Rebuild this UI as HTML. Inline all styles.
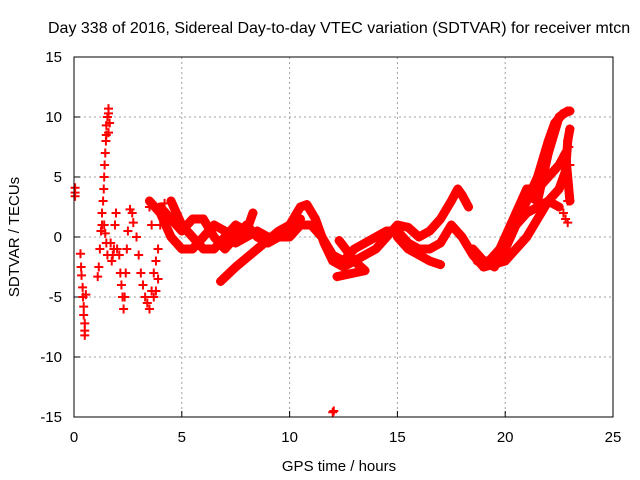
<!DOCTYPE html>
<html><head><meta charset="utf-8"><style>
body{margin:0;background:#fff}
svg{display:block;font-family:"Liberation Sans",sans-serif}
</style></head><body>
<svg id="chart" width="640" height="480">
<text x="48" y="33" font-size="16" text-anchor="start">Day 338 of 2016, Sidereal Day-to-day VTEC variation (SDTVAR) for receiver mtcn</text>
<text x="339" y="471" font-size="15" text-anchor="middle">GPS time / hours</text>
<text x="19" y="237" font-size="15" text-anchor="middle" transform="rotate(-90 19 237)">SDTVAR / TECUs</text>
<g id="grid"></g><g id="ticks"></g><g id="marks"></g>
<rect x="74" y="57" width="539" height="360" fill="none" stroke="#000"/>
</svg>
<script>
const xTicks=[0,5,10,15,20,25];
const yTicks=[-15,-10,-5,0,5,10,15];
const t1=[[0.05,3.4],[0.05,3.7],[0.05,4.1]];
const t2=[[0.3,-1.4],[0.33,-2.5],[0.35,-3.2],[0.4,-4.2],[0.42,-5],[0.45,-5.8],[0.45,-6.5],[0.5,-7.2],[0.5,-7.8],[0.5,-8.2],[0.55,-4.8]];
const t3=[[1.1,-3.3],[1.15,-2.5],[1.2,-1],[1.25,0.5],[1.3,1],[1.3,2],[1.35,3],[1.38,4],[1.4,5],[1.42,6],[1.45,7],[1.48,8],[1.5,8.5],[1.5,9.3],[1.55,10],[1.6,10.7],[1.6,10.3],[1.65,9.5],[1.6,8.7]];
const t4=[[1.4,1],[1.45,0.3],[1.5,-0.5],[1.55,-1.5],[1.7,-0.5],[1.75,-2],[1.8,-1.5],[1.85,-1],[1.9,1],[1.95,2],[2.0,-1],[2.1,-1.5],[2.15,-3],[2.2,-4],[2.25,-5],[2.3,-6],[2.35,-5],[2.4,-3],[2.45,-1],[2.5,0.5],[2.6,2.3],[2.7,2],[2.75,1.2]];
const t5=[[2.9,0],[3.0,-1.5],[3.1,-3],[3.2,-4],[3.3,-5],[3.4,-5.5],[3.5,-6],[3.6,-4.5],[3.7,-3],[3.8,-4.5],[3.9,-1],[3.5,2.5],[3.6,1],[4,1],[4.1,2],[4.2,2.8],[3.8,-2],[3.9,-3.5],[3.7,-5]];
const b1=[[3.5,3],[4,2],[4.5,0],[5,-1],[5.5,-1],[6,0],[6.5,1],[7,0.5],[7.5,-0.5],[8,0],[8.5,0.5],[9,0],[9.5,0],[10,1],[10.5,2.5],[10.8,2.7],[11.2,1.5],[11.6,-0.5],[12,-2],[12.5,-2.5],[13,-2],[13.5,-1.5],[14,-1],[14.5,0],[15,1],[15.5,0.8],[16,0],[16.5,0.5],[17,1.5],[17.5,3],[17.8,4],[18,3.5],[18.3,2.5]];
const b2=[[4,2.5],[4.5,1.5],[5,0.5],[5.5,1.5],[6,1.5],[6.5,0],[7,-1],[7.5,0],[8,1],[8.5,0],[9,-0.5],[9.5,0],[10,0],[10.5,1],[11,1],[11.5,0],[12,-1.5],[12.5,-2],[13,-1],[13.5,-0.5],[14,0],[14.5,0.5],[15,0.5],[15.5,-0.5],[16,-1],[16.5,-1],[17,-0.5],[17.5,1],[18,0],[18.5,-1.5],[19,-2.5],[19.5,-1.5],[20,-0.5],[20.5,1],[21,2],[21.5,2.5],[22,3],[22.5,2.5]];
const b3=[[4.5,3],[5,1],[5.5,0],[6,-1],[6.5,-1],[7,0],[7.5,1],[8,0.5],[8.3,2]];
const b4=[[6.8,-3.7],[7.5,-2.5],[8.5,-1],[9.5,0.5],[10.5,1.5]];
const b5=[[15,0],[15.5,-1],[16,-1.5],[16.5,-2],[17,-2.3]];
const b6=[[12.3,-0.3],[12.6,-1],[13,-2],[13.5,-2.8],[12.2,-3.3]];
const r1=[[18.5,-1],[19,-2],[19.5,-2.5],[20,-1],[20.5,1],[21,3],[21.5,5],[22,8],[22.3,9.5],[22.7,10.3],[23,10.5]];
const r2=[[18.7,-2],[19.5,-2],[20,0],[20.5,2],[21,4],[21.5,4],[22,5],[22.5,6],[22.8,7],[23,3]];
const r3=[[19,-2.5],[20,-2],[20.5,-1],[21,0],[21.5,1.5],[22,3],[22.5,4],[22.8,5.5],[22.9,8],[23,9]];
const r4=[[20.5,1],[21,3.5],[21.5,3],[22,7],[22.5,10],[22.9,10.5]];
const r5=[[22.7,2],[22.8,1.5],[22.9,1.2],[22.9,3],[22.9,4.5],[23,6],[22.95,7.5]];
const outlier=[[12,-14.6],[12.05,-14.5]];
const dense=[b1,b2,b3,b4,b5,b6,r1,r2,r3,r4];
const sparse=[t1,t2,t3,t4,t5,r5,outlier];
const X=h=>74+h*21.56, Y=v=>237-v*12;
const NS="http://www.w3.org/2000/svg";
const grid=document.getElementById('grid'),ticks=document.getElementById('ticks'),marks=document.getElementById('marks');
function mk(tag,attrs,parent){const e=document.createElementNS(NS,tag);for(const k in attrs)e.setAttribute(k,attrs[k]);parent.appendChild(e);return e;}
xTicks.forEach(t=>{
  if(t>0&&t<25){const l=mk('line',{x1:X(t),x2:X(t),y1:57,y2:417,stroke:'#a0a0a0','stroke-dasharray':'2,3'},grid);
  
  }
  const tk=mk('line',{x1:X(t),x2:X(t),y1:417,y2:411,stroke:'#000'},ticks);
  
  
  const tx=mk('text',{x:X(t),y:442,'font-size':15,'text-anchor':'middle'},ticks);tx.textContent=t;
  
  
});
yTicks.forEach(t=>{
  if(t>-15&&t<15){const l=mk('line',{x1:74,x2:613,y1:Y(t),y2:Y(t),stroke:'#a0a0a0','stroke-dasharray':'2,3'},grid);
  
  }
  const tk=mk('line',{x1:74,x2:80,y1:Y(t),y2:Y(t),stroke:'#000'},ticks);
  
  
  const tx=mk('text',{x:62,y:Y(t)+5,'font-size':15,'text-anchor':'end'},ticks);tx.textContent=t;
  
  
});
function plus(p){const x=X(p[0]),y=Y(p[1]);
  const m=mk('path',{d:`M${x-4.5} ${y}H${x+4.5}M${x} ${y-4.5}V${y+4.5}`,stroke:'#f00','stroke-width':2},marks);
  
  }
dense.forEach(s=>{
  const pl=mk('polyline',{points:s.map(p=>X(p[0])+','+Y(p[1])).join(' '),fill:'none',stroke:'#f00','stroke-width':9,'stroke-linejoin':'round','stroke-linecap':'round'},marks);
  
  
  s.forEach(plus);
});
sparse.forEach(s=>{ s.forEach(plus); });
</script>
</body></html>
